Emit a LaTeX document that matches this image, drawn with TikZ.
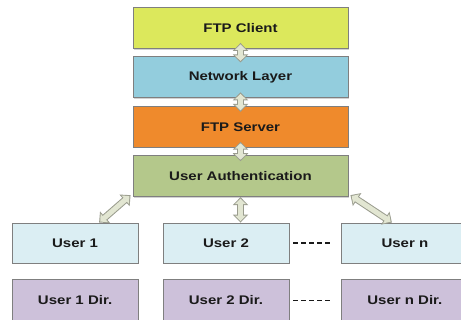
\documentclass[tikz,border=0pt]{standalone}
\usepackage{fontspec}
\setmainfont{Liberation Sans}[FakeStretch=1.2]
\usetikzlibrary{arrows.meta,positioning,shadows}
\definecolor{client}{HTML}{DCE85C}
\definecolor{netw}{HTML}{93CDDD}
\definecolor{server}{HTML}{EF8A2C}
\definecolor{auth}{HTML}{B4C88B}
\definecolor{user}{HTML}{DBEEF3}
\definecolor{udir}{HTML}{CDC1DA}
\definecolor{arrfill}{HTML}{E2E6D2}
\definecolor{arrline}{HTML}{9A9C8E}
\definecolor{edge}{HTML}{7F7F7F}
\definecolor{ink}{HTML}{1A1A1A}

\begin{document}
\begin{tikzpicture}[x=1pt,y=1pt,text=ink,
 layer/.style={draw=edge,line width=.9pt,minimum width=215pt,minimum height=41pt,inner sep=0pt,font=\fontsize{12.5}{14}\selectfont\bfseries,drop shadow={opacity=.35,shadow xshift=1.2pt,shadow yshift=-1.2pt}},
 ubox/.style={layer,minimum width=126pt,minimum height=40pt,fill=user},
 dbox/.style={ubox,minimum height=41pt,fill=udir},
 linkout/.style={line width=7pt,draw=arrline,{Triangle[length=8pt,width=15pt]}-{Triangle[length=8pt,width=15pt]}},
 linkin/.style={line width=5pt,draw=arrfill,shorten <=1.5pt,shorten >=1.5pt,{Triangle[length=5.5pt,width=11pt]}-{Triangle[length=5.5pt,width=11pt]}},
 dots/.style={draw=ink,line width=1.3pt,dash pattern=on 5pt off 3pt}]
 \clip (0,0) rectangle (461,-320);
 \fill[white] (0,0) rectangle (461,-320);
 % protocol stack
 \node[layer,fill=client] (client) at (240.5,-28) {FTP Client};
 \node[layer,fill=netw,below=7.5pt of client] (network) {Network Layer};
 \node[layer,fill=server,below=7.5pt of network] (server) {FTP Server};
 \node[layer,fill=auth,below=7.5pt of server] (auth) {User Authentication};
 % users and their directories
 \node[ubox] (user2) at (226,-243) {User 2};
 \node[ubox,left=24pt of user2] (user1) {User 1};
 \node[ubox,right=52pt of user2] (usern) {User n};
 \node[dbox,below=16pt of user1] (dir1) {User 1 Dir.};
 \node[dbox,below=16pt of user2] (dir2) {User 2 Dir.};
 \node[dbox,below=16pt of usern] (dirn) {User n Dir.};
 \draw[dots] ([xshift=4pt]user2.east) -- ([xshift=-9pt]usern.west);
 \draw[dots] ([xshift=4pt]dir2.east) -- ([xshift=-9pt]dirn.west);
 % two-way links
 \foreach \a/\b in {client/network,network/server,server/auth}{
  \draw[linkout] ([yshift=6pt]\a.south) -- ([yshift=-6pt]\b.north);
  \draw[linkin] ([yshift=6pt]\a.south) -- ([yshift=-6pt]\b.north);}
 \coordinate (m1) at ([xshift=-2pt,yshift=2pt]auth.south west);
 \coordinate (m2) at (auth.south |- user2.north);
 \coordinate (m3) at ([xshift=2pt,yshift=2pt]auth.south east);
 \draw[linkout] (m1) -- ([xshift=24pt]user1.north); \draw[linkin] (m1) -- ([xshift=24pt]user1.north);
 \draw[linkout] (auth.south) -- (m2); \draw[linkin] (auth.south) -- (m2);
 \draw[linkout] (m3) -- ([xshift=-13pt]usern.north); \draw[linkin] (m3) -- ([xshift=-13pt]usern.north);
\end{tikzpicture}
\end{document}
